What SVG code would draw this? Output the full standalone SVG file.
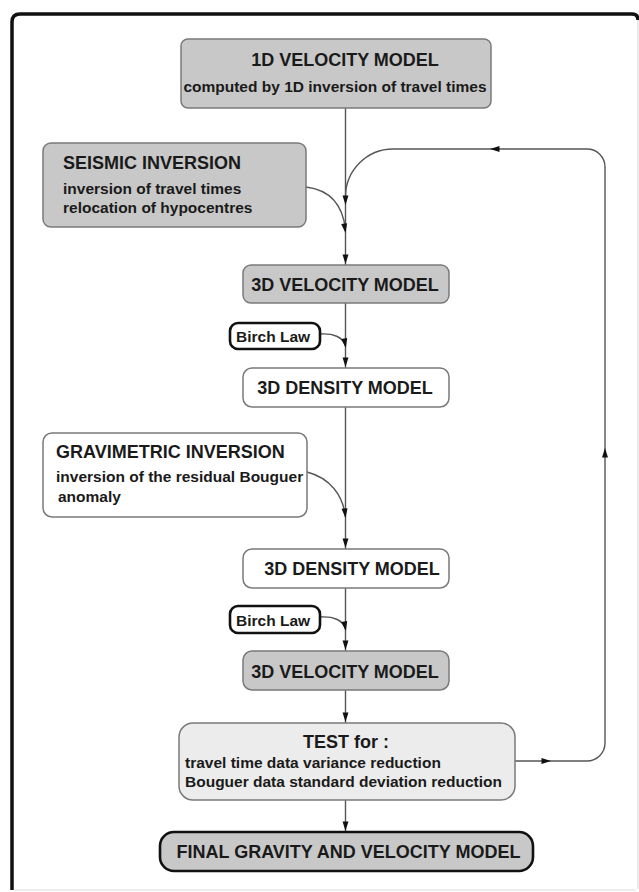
<svg xmlns="http://www.w3.org/2000/svg" xmlns:xlink="http://www.w3.org/1999/xlink" width="639" height="892" viewBox="0 0 639 892">
<style>
.box{stroke:#7a7a7a;stroke-width:1.5}
.gray{fill:#c8c8c8}
.white{fill:#ffffff}
.light{fill:#ececec}
.bold{stroke:#111;stroke-width:2.6}
.t{font-family:"Liberation Sans",Arial,sans-serif;font-weight:bold;fill:#1a1a1a}
.h{font-size:18px}
.s{font-size:15.5px}
.m{text-anchor:middle}
.c{fill:none;stroke:#555;stroke-width:1.4}
.ah{fill:#111}
</style>
<defs>
<path id="ah" d="M5,0 L-4.5,-3 L-4.5,3 Z"/>
</defs>
<rect x="0" y="0" width="639" height="892" fill="#ffffff"/>
<g id="frame">
<path d="M638,20 V889 M14,890 H636" fill="none" stroke="#dcdcdc" stroke-width="1.2"/>
<path d="M12,890 V22 Q12,14 20,14 H632 Q638,14 638,20" fill="none" stroke="#111" stroke-width="3.5"/>
</g>
<g id="connectors">
<path class="c" d="M345.5,108 V265 M345.5,303 V368 M345.5,407 V549 M345.5,588 V651 M345.5,690 V723 M345.5,800 V832"/>
<path class="c" d="M306,187 C330,190 343,205 345.5,230"/>
<path class="c" d="M515,761 H587 A18,18 0 0 0 605,743 V167 A18,18 0 0 0 587,149 H393 A47.5,48 0 0 0 345.5,197"/>
<path class="c" d="M320,334 C333,333 343,337 345.5,346"/>
<path class="c" d="M307,472 C330,478 343,495 345.5,517"/>
<path class="c" d="M320,617 C333,616 343,620 345.5,629"/>
<use xlink:href="#ah" class="ah" transform="translate(345.5,200) rotate(90)"/>
<use xlink:href="#ah" class="ah" transform="translate(344.8,228) rotate(82)"/>
<use xlink:href="#ah" class="ah" transform="translate(345.5,259) rotate(90)"/>
<use xlink:href="#ah" class="ah" transform="translate(495,149) rotate(180)"/>
<use xlink:href="#ah" class="ah" transform="translate(345,343) rotate(80)"/>
<use xlink:href="#ah" class="ah" transform="translate(345.5,362) rotate(90)"/>
<use xlink:href="#ah" class="ah" transform="translate(345,513) rotate(84)"/>
<use xlink:href="#ah" class="ah" transform="translate(345.5,543) rotate(90)"/>
<use xlink:href="#ah" class="ah" transform="translate(345,626) rotate(80)"/>
<use xlink:href="#ah" class="ah" transform="translate(345.5,645) rotate(90)"/>
<use xlink:href="#ah" class="ah" transform="translate(345.5,717) rotate(90)"/>
<use xlink:href="#ah" class="ah" transform="translate(345.5,826) rotate(90)"/>
<use xlink:href="#ah" class="ah" transform="translate(546,761)"/>
<use xlink:href="#ah" class="ah" transform="translate(605,453) rotate(-90)"/>
</g>
<g id="vel1d">
<rect class="box gray" x="181" y="39" width="310" height="69" rx="7"/>
<text class="t h m" x="345" y="66">1D VELOCITY MODEL</text>
<text class="t s m" x="335" y="92">computed by 1D inversion of travel times</text>
</g>
<g id="seismic">
<rect class="box gray" x="43" y="143" width="263" height="84" rx="8"/>
<text class="t h" x="63" y="169">SEISMIC INVERSION</text>
<text class="t s" x="63" y="194">inversion of travel times</text>
<text class="t s" x="63" y="213">relocation of hypocentres</text>
</g>
<g id="vel3d1">
<rect class="box gray" x="243" y="265" width="206" height="38" rx="8"/>
<text class="t h m" x="345" y="291">3D VELOCITY MODEL</text>
</g>
<g id="birch1">
<rect class="white bold" x="230" y="323" width="90" height="26" rx="8"/>
<text class="t s" x="236" y="342">Birch Law</text>
</g>
<g id="dens3d1">
<rect class="box white" x="243" y="368" width="206" height="39" rx="9"/>
<text class="t h m" x="345" y="394">3D DENSITY MODEL</text>
</g>
<g id="gravimetric">
<rect class="box white" x="43" y="433" width="264" height="84" rx="9"/>
<text class="t h" x="56" y="458">GRAVIMETRIC INVERSION</text>
<text class="t s" x="56" y="482">inversion of the residual Bouguer</text>
<text class="t s" x="58" y="502">anomaly</text>
</g>
<g id="dens3d2">
<rect class="box white" x="243" y="549" width="206" height="39" rx="9"/>
<text class="t h m" x="352" y="575">3D DENSITY MODEL</text>
</g>
<g id="birch2">
<rect class="white bold" x="230" y="606" width="90" height="27" rx="8"/>
<text class="t s" x="236" y="626">Birch Law</text>
</g>
<g id="vel3d2">
<rect class="box gray" x="243" y="651" width="206" height="39" rx="9"/>
<text class="t h m" x="345" y="678">3D VELOCITY MODEL</text>
</g>
<g id="test">
<rect class="box light" x="179" y="723" width="336" height="77" rx="14"/>
<text class="t h m" x="346" y="748">TEST for :</text>
<text class="t s" x="185" y="768">travel time data variance reduction</text>
<text class="t s" x="185" y="787">Bouguer data standard deviation reduction</text>
</g>
<g id="final">
<rect class="gray bold" x="160" y="832" width="373" height="39" rx="14"/>
<text class="t h m" x="348.5" y="858">FINAL GRAVITY AND VELOCITY MODEL</text>
</g>
</svg>
